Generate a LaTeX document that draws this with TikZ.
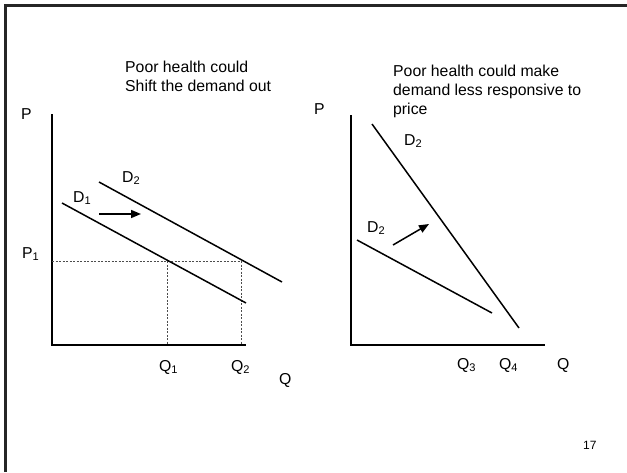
\documentclass[tikz,border=0pt]{standalone}
\usepackage{fontspec}
\setmainfont{Liberation Sans}
\usetikzlibrary{arrows.meta}
\tikzset{
  axisline/.style={line width=2.1pt,draw=black},
  demandline/.style={line width=1.5pt,draw=black},
  guideline/.style={line width=0.9pt,draw=black!70,dash pattern=on 2pt off 1.5pt},
  shiftarr/.style={-{Triangle[length=10pt,width=8pt]},line width=1.5pt,draw=black},
  lbl/.style={anchor=base west,inner sep=0pt},
  frameline/.style={line width=2.7pt,draw=black!85}
}
\begin{document}
\begin{tikzpicture}[x=1pt,y=-1pt,font=\fontsize{15.8}{19}\selectfont]
  \useasboundingbox (0,0) rectangle (627,472);
  \draw[frameline] (5.3,472) -- (5.3,5.3) -- (627,5.3);
  % left panel: the demand curve shifts out
  \node[lbl] (titleAa) at (125,72) {Poor health could};
  \node[lbl] (titleAb) at (125,91) {Shift the demand out};
  \coordinate (topA) at (52,114);
  \coordinate (oA) at (52,345);
  \coordinate (endA) at (246,345);
  \draw[axisline] (topA) -- (oA) -- (endA);
  \coordinate (pA) at (52,261);
  \coordinate (qoneTop) at (167,261);
  \coordinate (qtwoTop) at (241,261);
  \coordinate (qoneBot) at (167,345);
  \coordinate (qtwoBot) at (241,345);
  \draw[guideline] (pA) -- (qtwoTop) -- (qtwoBot);
  \draw[guideline] (qoneTop) -- (qoneBot);
  \coordinate (doneS) at (62,203);
  \coordinate (doneE) at (246,303);
  \coordinate (dtwoS) at (99,182);
  \coordinate (dtwoE) at (282,282);
  \draw[demandline] (doneS) -- (doneE);
  \draw[demandline] (dtwoS) -- (dtwoE);
  \coordinate (arrAs) at (99,214);
  \coordinate (arrAe) at (141,214);
  \draw[shiftarr] (arrAs) -- (arrAe);
  \node[lbl] (lblPA) at (21,119) {P};
  \node[lbl] (lblPone) at (22,258) {P\textsubscript{1}};
  \node[lbl] (lblDone) at (73,202) {D\textsubscript{1}};
  \node[lbl] (lblDtwoA) at (122,182) {D\textsubscript{2}};
  \node[lbl] (lblQone) at (159,371) {Q\textsubscript{1}};
  \node[lbl] (lblQtwo) at (231,371) {Q\textsubscript{2}};
  \node[lbl] (lblQA) at (279,384) {Q};
  % right panel: demand becomes steeper
  \node[lbl] (titleBa) at (393,76) {Poor health could make};
  \node[lbl] (titleBb) at (393,95) {demand less responsive to};
  \node[lbl] (titleBc) at (393,114) {price};
  \coordinate (topB) at (351,115);
  \coordinate (oB) at (351,345);
  \coordinate (endB) at (545,345);
  \draw[axisline] (topB) -- (oB) -- (endB);
  \coordinate (steepS) at (372,124);
  \coordinate (steepE) at (519,328);
  \coordinate (flatS) at (357,240);
  \coordinate (flatE) at (492,313);
  \draw[demandline] (steepS) -- (steepE);
  \draw[demandline] (flatS) -- (flatE);
  \coordinate (arrBs) at (393,245);
  \coordinate (arrBe) at (429,224);
  \draw[shiftarr] (arrBs) -- (arrBe);
  \node[lbl] (lblPB) at (314,114) {P};
  \node[lbl] (lblDtwoUp) at (404,145) {D\textsubscript{2}};
  \node[lbl] (lblDtwoLow) at (367,232) {D\textsubscript{2}};
  \node[lbl] (lblQthree) at (457,369) {Q\textsubscript{3}};
  \node[lbl] (lblQfour) at (499,369) {Q\textsubscript{4}};
  \node[lbl] (lblQB) at (557,369) {Q};
  \node[lbl,font=\fontsize{12}{14}\selectfont] (pagenum) at (583,449) {17};
\end{tikzpicture}
\end{document}
